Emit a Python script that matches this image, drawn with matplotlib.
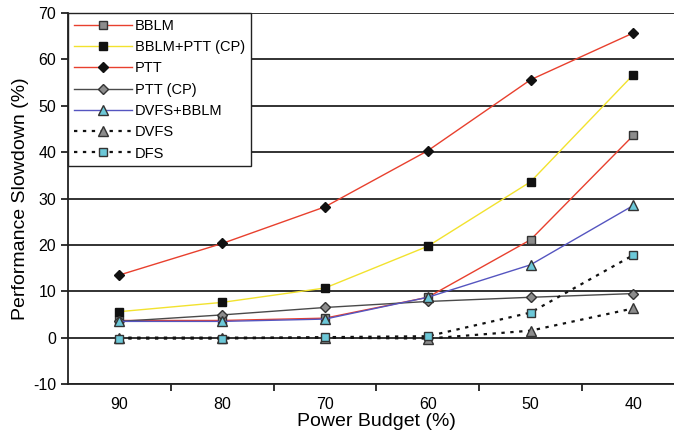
import matplotlib
matplotlib.use("Agg")
import matplotlib.pyplot as plt

plt.rcParams['font.family'] = ['Liberation Sans', 'DejaVu Sans']
plt.rcParams['axes.unicode_minus'] = False

budgets = ["90", "80", "70", "60", "50", "40"]

bblm = [3.7, 3.7, 4.2, 8.7, 21.1, 43.6]
bblm_ptt_cp = [5.6, 7.6, 10.7, 19.7, 33.6, 56.7]
ptt = [13.5, 20.3, 28.2, 40.3, 55.6, 65.7]
ptt_cp = [3.5, 4.9, 6.5, 7.8, 8.7, 9.5]
dvfs_bblm = [3.5, 3.5, 4.0, 8.7, 15.7, 28.5]
dvfs = [0.0, 0.0, 0.0, -0.2, 1.5, 6.3]
dfs = [-0.2, -0.2, 0.1, 0.3, 5.4, 17.8]

fig = plt.figure(figsize=(6.74, 4.42), dpi=100)
ax = fig.add_axes([0.1009, 0.1312, 0.915, 0.8394])

x = range(len(budgets))

# horizontal gridlines every 10%
for yv in range(-10, 71, 10):
    ax.axhline(yv, color="#222222", lw=1.3, zorder=1)

ms = 5.5
ax.plot(x, bblm, color="#e8402e", lw=1, marker="s", ms=ms, mfc="#8c8c8c",
        mec="#333333", label="BBLM", zorder=3)
ax.plot(x, bblm_ptt_cp, color="#f2e22e", lw=1, marker="s", ms=ms, mfc="#111111",
        mec="#111111", label="BBLM+PTT (CP)", zorder=3)
ax.plot(x, ptt, color="#e8402e", lw=1, marker="D", ms=ms, mfc="#111111",
        mec="#111111", label="PTT", zorder=3)
ax.plot(x, ptt_cp, color="#4a4a4a", lw=1, marker="D", ms=ms, mfc="#8c8c8c",
        mec="#333333", label="PTT (CP)", zorder=3)
ax.plot(x, dvfs_bblm, color="#5555c0", lw=1, marker="^", ms=ms + 1, mfc="#6cc8d8",
        mec="#333333", label="DVFS+BBLM", zorder=3)
ax.plot(x, dvfs, color="#111111", lw=1.6, ls=(0, (1.5, 2.5)), marker="^", ms=ms + 1,
        mfc="#8c8c8c", mec="#333333", label="DVFS", zorder=3)
ax.plot(x, dfs, color="#111111", lw=1.6, ls=(0, (1.5, 2.5)), marker="s", ms=ms,
        mfc="#6cc8d8", mec="#333333", label="DFS", zorder=3)

ax.set_xlim(-0.5, 5.5)
ax.set_ylim(-10, 70)
ax.set_yticks(range(-10, 71, 10))
ax.set_xticks(list(x))
ax.set_xticklabels(budgets)
ax.set_xticks([i + 0.5 for i in range(len(budgets) - 1)], minor=True)
ax.tick_params(axis="x", which="major", length=0, labelsize=11.5, pad=9)
ax.tick_params(axis="x", which="minor", length=5, width=1.3, color="#222222")
ax.tick_params(axis="y", length=5, width=1.3, color="#222222", labelsize=11.5)

for side in ("top", "right"):
    ax.spines[side].set_visible(False)
for side in ("left", "bottom"):
    ax.spines[side].set_linewidth(1.3)
    ax.spines[side].set_color("#222222")

ax.set_xlabel("Power Budget (%)", fontsize=14, labelpad=1)
ax.set_ylabel("Performance Slowdown (%)", fontsize=14, labelpad=3)

leg = ax.legend(loc="upper left", bbox_to_anchor=(0.0, 1.0), fontsize=10.5,
                handlelength=4.0, handletextpad=0.2, labelspacing=0.5,
                borderpad=0.4, fancybox=False, framealpha=1, edgecolor="#222222",
                borderaxespad=0)
leg.get_frame().set_linewidth(1.0)
leg.set_zorder(5)

fig.savefig("out.png", dpi=100)
